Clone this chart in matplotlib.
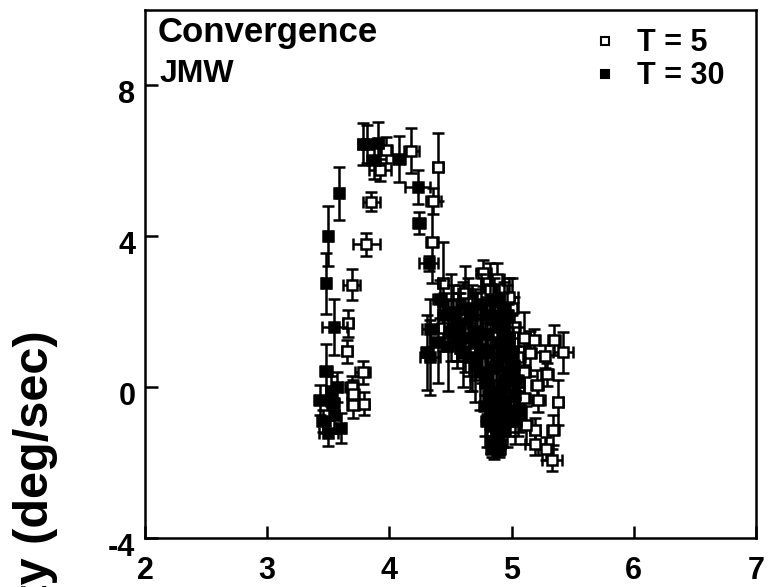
import matplotlib
matplotlib.use("Agg")
import matplotlib.pyplot as plt
import matplotlib.transforms as mtransforms
from matplotlib.lines import Line2D

plt.rcParams["font.family"] = ["Liberation Sans", "DejaVu Sans"]
plt.rcParams["font.weight"] = "bold"
plt.rcParams["axes.unicode_minus"] = False

# T = 5 (open squares): x, y, x error, y error
t5_x = [3.66, 3.65, 3.78, 3.69, 3.70, 3.70, 3.79, 3.69, 3.81, 3.85,
        3.92, 3.97, 4.18, 4.40, 4.36, 4.35, 4.44, 4.44,
        5.35, 5.42, 5.18, 5.27, 5.29, 5.21, 5.38, 5.22, 5.19, 5.34,
        5.19, 5.28, 5.33, 4.98, 4.88, 4.77,
        4.60, 4.70, 4.85, 4.95, 5.05, 5.10, 5.00, 5.10, 5.05, 5.12,
        4.92, 4.75, 4.65, 4.55, 4.90, 5.02, 5.15, 5.10, 4.98, 5.00,
        4.50, 4.62, 4.68, 4.82, 4.58]
t5_y = [1.69, 0.95, 0.39, 0.00, -0.17, -0.48, -0.44, 2.72, 3.79, 4.92,
        5.76, 6.29, 6.27, 5.84, 4.93, 3.85, 2.75, 1.56,
        1.24, 0.92, 1.24, 0.82, 0.34, 0.05, -0.40, -0.35, -1.13, -1.13,
        -1.50, -1.63, -1.93, 2.39, 2.88, 3.02,
        2.00, 1.70, 1.40, 1.10, 0.80, 0.40, 0.00, -0.30, -0.70, -1.00,
        0.60, 2.40, 1.20, 1.50, 2.00, 1.60, 0.90, 1.30, -0.50, 2.10,
        2.20, 2.50, 0.90, 2.60, 1.80]
t5_xerr = [0.04, 0.04, 0.06, 0.05, 0.05, 0.05, 0.04, 0.07, 0.11, 0.07,
           0.09, 0.05, 0.06, 0.04, 0.06, 0.05, 0.04, 0.05,
           0.05, 0.08, 0.05, 0.04, 0.05, 0.05, 0.04, 0.05, 0.04, 0.05,
           0.08, 0.06, 0.08, 0.07, 0.06, 0.06,
           0.05, 0.06, 0.05, 0.05, 0.06, 0.05, 0.05, 0.05, 0.06, 0.05,
           0.05, 0.06, 0.05, 0.05, 0.06, 0.05, 0.05, 0.05, 0.06, 0.05,
           0.05, 0.06, 0.05, 0.05, 0.06]
t5_yerr = [0.35, 0.30, 0.30, 0.30, 0.35, 0.35, 0.30, 0.40, 0.30, 0.25,
           0.30, 0.35, 0.60, 0.90, 0.35, 1.10, 1.10, 0.60,
           0.40, 0.55, 0.30, 0.30, 0.30, 0.40, 0.60, 0.30, 0.30, 0.40,
           0.30, 0.30, 0.30, 0.50, 0.40, 0.35,
           0.80, 0.90, 0.90, 1.00, 0.80, 0.70, 0.90, 0.70, 0.60, 0.50,
           1.00, 0.70, 0.90, 0.80, 0.90, 0.80, 0.60, 0.70, 0.70, 0.80,
           0.80, 0.70, 1.00, 0.70, 0.90]

# T = 30 (filled squares)
t30_x = [3.48, 3.50, 3.59, 3.55, 3.48, 3.43, 3.50, 3.60, 3.57, 3.54,
         3.52, 3.46, 3.55,
         3.78, 3.82, 3.91, 3.87, 4.08, 4.23, 4.24, 4.32, 4.41, 4.33,
         4.33, 4.31,
         4.45, 4.52, 4.58, 4.62, 4.68, 4.55, 4.72, 4.75, 4.78, 4.80,
         4.82, 4.84, 4.86, 4.83, 4.86, 4.90, 4.88, 4.90, 4.92, 4.94,
         4.96, 4.98, 5.00, 5.02, 5.04, 4.85, 4.80, 4.88, 4.93, 4.96,
         4.78, 4.91, 5.06, 4.60, 4.50, 4.40, 4.70,
         4.76, 4.80, 4.84, 4.87, 4.89, 4.91, 4.93, 4.95, 4.97, 4.99,
         5.01, 4.86, 4.82, 4.88, 4.84, 4.90, 4.79, 5.03, 4.94, 4.74,
         4.48, 4.56, 4.64, 4.70, 4.66]
t30_y = [2.75, 4.00, 5.14, 1.59, 0.44, -0.33, -1.21, -1.08, 0.00, -0.43,
         -0.10, -0.90, -0.75,
         6.45, 6.45, 6.47, 6.03, 6.05, 5.31, 4.35, 3.28, 2.33, 1.53,
         0.79, 0.92,
         1.90, 2.00, 1.70, 1.30, 1.90, 1.20, 1.50, 2.20, 0.90, 0.30,
         -0.20, -0.60, -1.00, -1.45, -1.60, -1.50, 0.60, 1.20, 0.00, -0.40,
         -0.90, 0.40, 0.90, -0.20, 0.20, 1.80, 1.40, -1.20, 1.60, 1.90,
         -0.50, -0.80, -0.60, 0.90, 1.50, 1.20, 0.60,
         1.00, -0.90, 0.50, -0.30, 1.60, 0.90, -1.10, 0.20, 1.30, -0.60,
         0.60, 2.30, 1.90, -1.40, -1.65, -1.65, 0.10, -0.90, 2.10, 0.40,
         1.10, 1.60, 2.10, 1.20, 0.80]
t30_xerr = [0.03, 0.03, 0.03, 0.10, 0.05, 0.05, 0.08, 0.04, 0.04, 0.05,
            0.04, 0.05, 0.04,
            0.04, 0.04, 0.04, 0.05, 0.05, 0.10, 0.05, 0.08, 0.05, 0.06,
            0.08, 0.05,
            0.05, 0.05, 0.06, 0.05, 0.06, 0.05, 0.05, 0.04, 0.05, 0.05,
            0.05, 0.06, 0.05, 0.05, 0.05, 0.05, 0.05, 0.05, 0.06, 0.05,
            0.05, 0.05, 0.05, 0.05, 0.05, 0.05, 0.04, 0.05, 0.05, 0.05,
            0.05, 0.06, 0.05, 0.05, 0.05, 0.05, 0.04,
            0.05, 0.05, 0.04, 0.05, 0.05, 0.05, 0.05, 0.04, 0.05, 0.05,
            0.05, 0.05, 0.05, 0.04, 0.05, 0.05, 0.05, 0.05, 0.05, 0.05,
            0.06, 0.05, 0.05, 0.05, 0.05]
t30_yerr = [0.80, 0.80, 0.70, 0.75, 0.70, 0.40, 0.35, 0.40, 0.40, 0.40,
            0.40, 0.30, 0.40,
            0.55, 0.50, 0.55, 0.50, 0.60, 0.45, 0.30, 0.20, 0.50, 0.80,
            1.00, 1.00,
            0.60, 0.70, 0.80, 0.90, 0.80, 0.70, 1.00, 0.80, 1.10, 1.00,
            0.90, 0.80, 0.70, 0.30, 0.30, 0.30, 1.10, 1.00, 1.00, 0.90,
            0.70, 1.00, 1.00, 0.80, 0.90, 0.90, 1.00, 0.50, 0.90, 0.80,
            0.80, 0.60, 0.60, 0.90, 0.80, 1.10, 1.00,
            0.90, 0.70, 1.00, 0.90, 0.80, 1.00, 0.50, 1.00, 0.90, 0.70,
            1.00, 0.60, 0.80, 0.30, 0.20, 0.20, 1.00, 0.60, 0.70, 1.00,
            1.20, 0.90, 0.80, 1.00, 0.90]

x_ticks = [2, 3, 4, 5, 6, 7]
y_ticks = [-4, 0, 4, 8]

fig = plt.figure(figsize=(7.69, 5.87), dpi=100)
ax = fig.add_axes([145 / 769, 1 - 538 / 587, 611 / 769, 528 / 587])

eb_kw = dict(fmt="s", ms=7, mec="black", mew=1.8, ecolor="black",
             elinewidth=1.8, capsize=4.5, capthick=1.8)
ax.errorbar(t5_x, t5_y, xerr=t5_xerr, yerr=t5_yerr, mfc="white", zorder=2, **eb_kw)
ax.errorbar(t30_x, t30_y, xerr=t30_xerr, yerr=t30_yerr, mfc="black", zorder=3, **eb_kw)

ax.set_xlim(2, 7)
ax.set_ylim(-4, 10)
ax.set_xticks(x_ticks)
ax.set_yticks(y_ticks)
ax.tick_params(axis="both", direction="in", length=9, width=1.8,
               labelsize=22, top=False, right=False)
ax.tick_params(axis="x", pad=13)
ax.tick_params(axis="y", pad=7)
for lbl in ax.get_yticklabels():
    lbl.set_transform(lbl.get_transform() +
                      mtransforms.ScaledTranslation(0, -0.06, fig.dpi_scale_trans))
for sp in ax.spines.values():
    sp.set_linewidth(1.8)

ax.text(2.1, 9.14, "Convergence", fontsize=25, fontweight="bold", va="baseline")
ax.text(2.12, 8.1, "JMW", fontsize=23, fontweight="bold", va="baseline")

handles = [Line2D([], [], ls="none", marker="s", ms=6, mfc="white", mec="black", mew=1.5),
           Line2D([], [], ls="none", marker="s", ms=6, mfc="black", mec="black", mew=1.5)]
ax.legend(handles, ["T = 5", "T = 30"], loc="upper left",
          bbox_to_anchor=(0.698, 1.0), frameon=False, fontsize=22,
          handlelength=1.0, handletextpad=0.55, labelspacing=0.1,
          borderaxespad=0.2)

fig.text(36 / 769, 1 - 536 / 587, "Velocity (deg/sec)", rotation=90,
         ha="center", va="center", fontsize=35, fontweight="bold")

fig.savefig("out.png", dpi=100)
